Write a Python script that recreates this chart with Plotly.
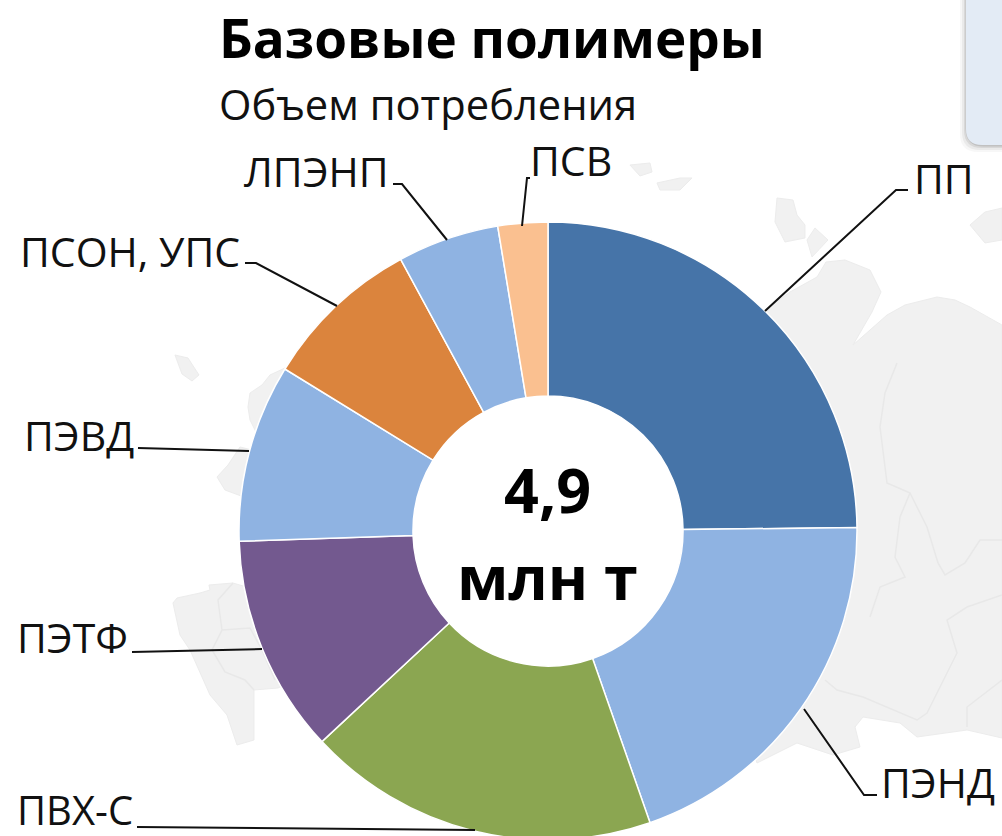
import plotly.graph_objects as go

W, H = 1002, 844

categories = ["ПП", "ПЭНД", "ПВХ-С", "ПЭТФ", "ПЭВД", "ПСОН, УПС", "ЛПЭНП", "ПСВ"]
shares = [24.8, 19.8, 18.4, 11.4, 9.3, 8.3, 5.3, 2.6]
slice_colors = ["#4674a8", "#8fb3e2", "#8ba651", "#73598f", "#8fb3e2", "#db843d", "#8fb3e2", "#fac090"]
title_text = "Базовые полимеры"
subtitle_text = "Объем потребления"
center_top = "4,9"
center_bottom = "млн т"
label_sizes = [41, 41, 40, 41, 41, 41, 41, 41]
FONT = "Open Sans"


def px(x):
    return x / W


def py(y):
    return 1 - y / H


def path(points, close=True):
    d = "M " + " L ".join(f"{px(x):.5f},{py(y):.5f}" for x, y in points)
    return d + (" Z" if close else "")


LAND = "#f1f1f1"
BORDER = "#e8e8e8"
land_polys = [
    # east mainland
    [(763, 312), (790, 292), (817, 277), (826, 262), (845, 260), (870, 270), (881, 292), (872, 312), (853, 345),
     (887, 315), (905, 305), (937, 297), (955, 300), (970, 307), (1002, 325), (1002, 738), (967, 730), (917, 737),
     (900, 723), (863, 717), (855, 727), (860, 747), (833, 755), (797, 743), (757, 763), (700, 600), (700, 400)],
    # west peninsula
    [(173, 603), (177, 598), (200, 593), (210, 590), (209, 585), (233, 583), (290, 600), (295, 680), (278, 688),
     (254, 690), (254, 740), (237, 745), (227, 715), (210, 695), (190, 650), (180, 635)],
    # west coast
    [(248, 407), (250, 393), (262, 385), (270, 375), (285, 368), (300, 400), (260, 440), (250, 420)],
    [(217, 477), (228, 465), (240, 447), (252, 450), (252, 500), (225, 490)],
    # islands
    [(175, 355), (188, 358), (199, 375), (192, 381), (182, 374)],
    [(777, 198), (793, 200), (797, 215), (805, 225), (805, 238), (785, 242), (775, 222)],
    [(807, 240), (815, 228), (828, 240), (812, 257)],
    [(970, 225), (985, 212), (1002, 208), (1002, 240), (985, 243)],
    [(630, 165), (650, 163), (652, 172), (640, 176)],
    [(657, 183), (680, 178), (692, 178), (680, 190), (660, 190)],
]
border_lines = [
    [(897, 363), (885, 393), (880, 427), (887, 483), (910, 493), (900, 517), (895, 557), (905, 577), (880, 587), (870, 617)],
    [(910, 493), (927, 527), (938, 563), (945, 575), (965, 563), (980, 540), (1002, 540)],
    [(1002, 595), (967, 607), (947, 620), (957, 653), (927, 713), (917, 720), (863, 697), (837, 690), (825, 680)],
    [(967, 727), (967, 707), (1002, 680)],
    [(233, 583), (218, 600), (222, 630), (212, 650), (225, 672), (245, 680), (254, 690)],
    [(222, 630), (250, 628), (262, 650), (275, 680)],
]

leaders = [
    [(765, 311), (896, 190), (908, 190)],
    [(804, 709), (864, 795), (877, 795)],
    [(475, 830), (137, 827)],
    [(262, 649), (132, 652)],
    [(249, 451), (138, 448)],
    [(337, 306), (256, 263), (245, 263)],
    [(447, 240), (402, 184), (393, 184)],
    [(522, 226), (527, 178), (530, 178)],
]
label_anchor = [
    (913, 178, "left"),
    (880, 782, "left"),
    (134, 809, "right"),
    (129, 637, "right"),
    (135, 435, "right"),
    (241, 251, "right"),
    (390, 171, "right"),
    (529, 160, "left"),
]

shapes = []
for poly in land_polys:
    shapes.append(dict(type="path", path=path(poly), xref="paper", yref="paper", fillcolor=LAND,
                       line=dict(color="#ececec", width=1), layer="below"))
for pts in border_lines:
    shapes.append(dict(type="path", path=path(pts, False), xref="paper", yref="paper",
                       line=dict(color=BORDER, width=1.5), layer="below"))
for pts in leaders:
    shapes.append(dict(type="path", path=path(pts, False), xref="paper", yref="paper",
                       line=dict(color="#111111", width=2), layer="above"))


def rounded(x0, y0, x1, y1, r):
    return (f"M {px(x0):.5f},{py(y1 - r):.5f} L {px(x0):.5f},{py(y0):.5f} L {px(x1):.5f},{py(y0):.5f} "
            f"L {px(x1):.5f},{py(y1):.5f} L {px(x0 + r):.5f},{py(y1):.5f} "
            f"Q {px(x0):.5f},{py(y1):.5f} {px(x0):.5f},{py(y1 - r):.5f} Z")


for grow, op in [(7, 0.05), (5, 0.08), (3, 0.12), (1.5, 0.18)]:
    shapes.append(dict(type="path", path=rounded(966 - grow + 1, 0, 1002, 145 + grow, 18), xref="paper", yref="paper",
                       fillcolor=f"rgba(90,90,90,{op})", line=dict(width=0), layer="above"))
shapes.append(dict(type="path", path=rounded(966, 0, 1002, 145, 16), xref="paper", yref="paper",
                   fillcolor="#e3ebf5", line=dict(width=0), layer="above"))

annotations = [
    dict(x=px(218), y=py(37), text=f"<b>{title_text}</b>", xanchor="left", yanchor="middle",
         font=dict(size=53, family=FONT, color="#000000")),
    dict(x=px(218), y=py(103), text=subtitle_text, xanchor="left", yanchor="middle",
         font=dict(size=41.7, family=FONT, color="#111111")),
    dict(x=px(547), y=py(489), text=f"<b>{center_top}</b>", xanchor="center", yanchor="middle",
         font=dict(size=61, family=FONT, color="#000000")),
    dict(x=px(547), y=py(576), text=f"<b>{center_bottom}</b>", xanchor="center", yanchor="middle",
         font=dict(size=61, family=FONT, color="#000000")),
]
for name, (x, y, anchor), size in zip(categories, label_anchor, label_sizes):
    annotations.append(dict(x=px(x), y=py(y), text=name, xanchor=anchor, yanchor="middle",
                            font=dict(size=size, family=FONT, color="#111111")))
for a in annotations:
    a.update(xref="paper", yref="paper", showarrow=False, xshift=0, borderpad=0)

fig = go.Figure(go.Pie(
    labels=categories,
    values=shares,
    sort=False,
    direction="clockwise",
    rotation=0,
    hole=0.437,
    textinfo="none",
    marker=dict(colors=slice_colors, line=dict(color="#ffffff", width=1.5)),
    domain=dict(x=[px(239), px(857)], y=[py(840), py(222)]),
    showlegend=False,
))
fig.update_layout(width=W, height=H, margin=dict(l=0, r=0, t=0, b=0), paper_bgcolor="#ffffff",
                  plot_bgcolor="#ffffff", shapes=shapes, annotations=annotations, showlegend=False)
fig.write_html("out.html", config=dict(displayModeBar=False),
               post_script="document.documentElement.style.overflow='hidden';document.body.style.margin='0';document.body.style.overflow='hidden';")
